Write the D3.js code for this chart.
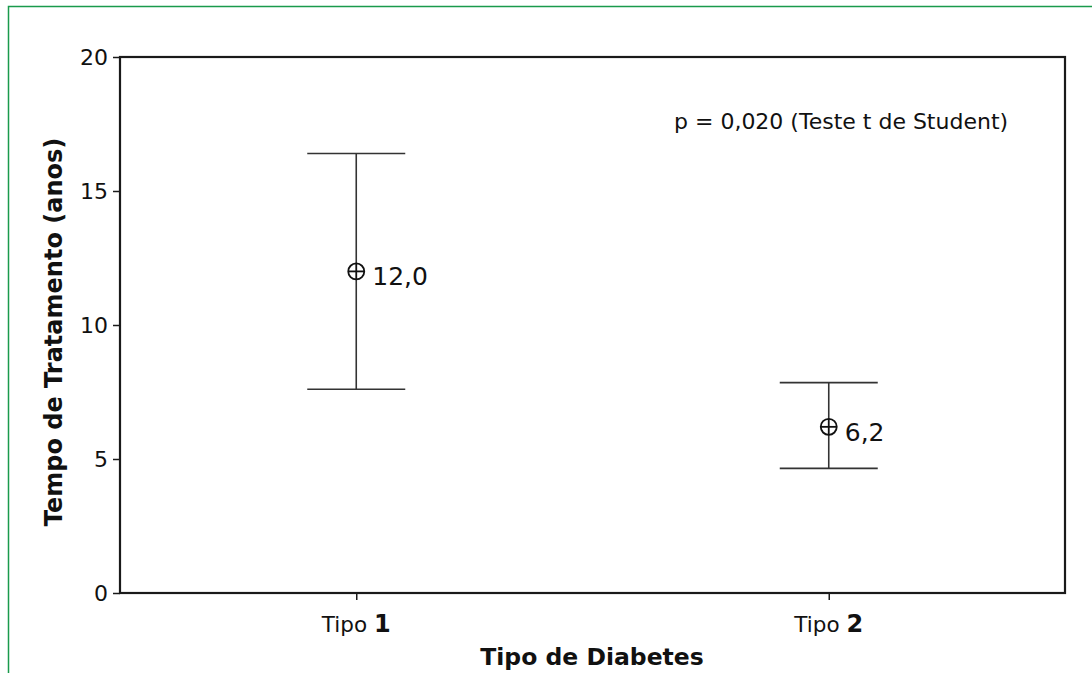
<!DOCTYPE html>
<html><head><meta charset="utf-8">
<script src="https://cdn.jsdelivr.net/npm/d3@7"></script>
<style>body{margin:0;background:#fff}svg{display:block}</style>
</head><body>
<script>
const categories = ["1", "2"];
const means = [12.0, 6.2];
const upper = [16.4, 7.85];
const lower = [7.6, 4.65];
const meanLabels = ["12,0", "6,2"];
const yTicks = [0, 5, 10, 15, 20];
const annotation = "p = 0,020 (Teste t de Student)";

const W = 1092, H = 673;
const svg = d3.select("body").append("svg").attr("width", W).attr("height", H);
const font = "'DejaVu Sans', Verdana, sans-serif";

// green frame
svg.append("path").attr("d", `M8.5,${H} V6.5 H${W}`).attr("fill","none").attr("stroke","#1a9a4c").attr("stroke-width",1.5);

const L = 120, R = 1065, T = 57, B = 593;
const y = d3.scaleLinear().domain([0, 20]).range([B, T]);
const x = d3.scalePoint().domain(categories).range([L, R]).padding(0.5);

svg.append("rect").attr("x", L).attr("y", T).attr("width", R - L).attr("height", B - T)
  .attr("fill", "none").attr("stroke", "#1a1a1a").attr("stroke-width", 2.2);

const yAxis = svg.append("g").attr("transform", `translate(${L},0)`)
  .call(d3.axisLeft(y).tickValues(yTicks).tickSize(7).tickPadding(5).tickFormat(d3.format("d")));
yAxis.select(".domain").remove();
yAxis.selectAll("line").attr("stroke", "#1a1a1a").attr("stroke-width", 1.5);
yAxis.selectAll("text").attr("font-family", font).attr("font-size", 22).attr("fill", "#111");

const xAxis = svg.append("g").attr("transform", `translate(0,${B})`)
  .call(d3.axisBottom(x).tickSize(7).tickFormat(""));
xAxis.select(".domain").remove();
xAxis.selectAll("line").attr("stroke", "#1a1a1a").attr("stroke-width", 1.5);

categories.forEach(c => {
  const t = svg.append("text").attr("x", x(c)).attr("y", 632).attr("text-anchor", "middle")
    .attr("font-family", font).attr("fill", "#111");
  t.append("tspan").attr("font-size", 21.5).text("Tipo ");
  t.append("tspan").attr("font-size", 24).attr("font-weight", "bold").text(c);
});

svg.append("text").attr("x", 592).attr("y", 665).attr("text-anchor", "middle")
  .attr("font-family", font).attr("font-size", 23.5).attr("font-weight", "bold").attr("fill", "#111")
  .text("Tipo de Diabetes");

svg.append("text").attr("transform", `translate(62,332) rotate(-90)`).attr("text-anchor", "middle")
  .attr("font-family", font).attr("font-size", 24).attr("font-weight", "bold").attr("fill", "#111")
  .text("Tempo de Tratamento (anos)");

const capW = 49;
const g = svg.append("g").attr("stroke", "#333").attr("stroke-width", 1.6).attr("fill", "none");
categories.forEach((c, i) => {
  const cx = x(c);
  g.append("line").attr("x1", cx).attr("x2", cx).attr("y1", y(upper[i])).attr("y2", y(lower[i]));
  g.append("line").attr("x1", cx - capW).attr("x2", cx + capW).attr("y1", y(upper[i])).attr("y2", y(upper[i]));
  g.append("line").attr("x1", cx - capW).attr("x2", cx + capW).attr("y1", y(lower[i])).attr("y2", y(lower[i]));
  const cy = y(means[i]);
  const r = 8;
  g.append("circle").attr("cx", cx).attr("cy", cy).attr("r", r).attr("fill", "#fff").attr("stroke", "#111").attr("stroke-width", 1.8);
  g.append("line").attr("x1", cx - r).attr("x2", cx + r).attr("y1", cy).attr("y2", cy).attr("stroke", "#111").attr("stroke-width", 1.8);
  g.append("line").attr("x1", cx).attr("x2", cx).attr("y1", cy - r).attr("y2", cy + r).attr("stroke", "#111").attr("stroke-width", 1.8);
  svg.append("text").attr("x", cx + 16).attr("y", cy + 14).attr("font-family", font).attr("font-size", 25)
    .attr("fill", "#111").text(meanLabels[i]);
});

svg.append("text").attr("x", 674).attr("y", 129).attr("font-family", font).attr("font-size", 22)
  .attr("fill", "#111").text(annotation);
</script>
</body></html>
